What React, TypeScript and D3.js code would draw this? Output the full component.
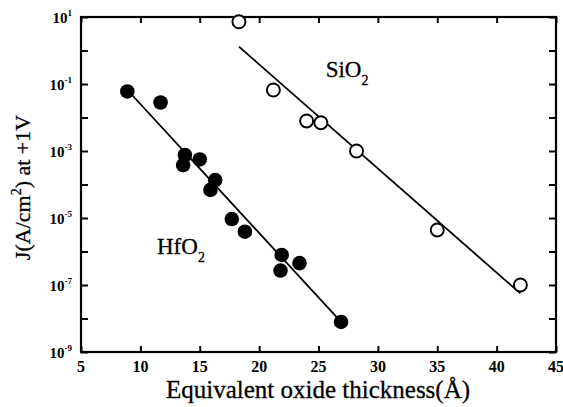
import React, { useRef, useEffect } from "react";
import * as d3 from "d3";

// HfO2 (filled) and SiO2 (open) measurements
const hfo2Thickness = [8.9, 11.7, 13.75, 13.6, 15.0, 16.3, 15.9, 17.7, 18.8, 21.9, 21.8, 23.4, 26.9];
const hfo2Current = [6e-2, 2.8e-2, 7.6e-4, 3.8e-4, 5.6e-4, 1.35e-4, 6.9e-5, 9.3e-6, 3.9e-6, 7.9e-7, 2.7e-7, 4.5e-7, 7.9e-9];

const sio2Thickness = [18.3, 21.2, 24.0, 25.2, 28.2, 35.0, 42.0];
const sio2Current = [7.2, 6.6e-2, 7.9e-3, 7e-3, 1e-3, 4.4e-6, 1e-7];

// fitted lines (end points)
const hfo2FitThickness = [9.3, 26.9];
const hfo2FitCurrent = [4.7e-2, 7.9e-9];
const sio2FitThickness = [18.3, 42.0];
const sio2FitCurrent = [1.3, 5.6e-8];

const xTicks = [5, 10, 15, 20, 25, 30, 35, 40, 45];
const yExponents = [1, 0, -1, -2, -3, -4, -5, -6, -7, -8, -9];
const yLabelExponents = [1, -1, -3, -5, -7, -9];

const W = 563;
const H = 407;
const margin = { top: 17, left: 81, right: 7, bottom: 55 };
const font = "'Liberation Serif', 'Times New Roman', serif";

export default function App() {
  const svgRef = useRef<SVGSVGElement>(null);

  useEffect(() => {
    drawChart();
  }, []);

  function drawChart() {
    const root = d3.select(svgRef.current);
    root.selectAll("*").remove();

    const width = W - margin.left - margin.right;
    const height = H - margin.top - margin.bottom;

    const svg = root.append("g").attr("transform", `translate(${margin.left},${margin.top})`);

    const xScale = d3.scaleLinear().domain([5, 45]).range([0, width]);
    const yScale = d3.scaleLog().domain([1e-9, 1e1]).range([height, 0]);
    const yTickVals = yExponents.map((e) => Math.pow(10, e));

    // ticks (all pointing inward)
    const styleAxis = (g: any) => {
      g.select(".domain").remove();
      g.selectAll("line").attr("stroke", "#000").attr("stroke-width", 2);
      g.selectAll("text").remove();
    };
    svg.append("g").attr("transform", `translate(0,${height})`)
      .call(d3.axisBottom(xScale).tickValues(xTicks).tickSize(-6)).call(styleAxis);
    svg.append("g")
      .call(d3.axisTop(xScale).tickValues(xTicks).tickSize(-6)).call(styleAxis);
    svg.append("g")
      .call(d3.axisLeft(yScale).tickValues(yTickVals).tickSize(-7)).call(styleAxis);
    svg.append("g").attr("transform", `translate(${width},0)`)
      .call(d3.axisRight(yScale).tickValues(yTickVals).tickSize(-7)).call(styleAxis);

    // frame
    svg.append("rect").attr("width", width).attr("height", height)
      .attr("fill", "none").attr("stroke", "#000").attr("stroke-width", 2.2);

    // x tick labels
    svg.selectAll(".xlab").data(xTicks).enter().append("text")
      .attr("x", (d) => xScale(d)).attr("y", height + 20)
      .attr("text-anchor", "middle").attr("font-family", font)
      .attr("font-weight", "bold").attr("font-size", 16).text((d) => d);

    // y tick labels 10^n
    const ylab = svg.selectAll(".ylab").data(yLabelExponents).enter().append("text")
      .attr("x", -9).attr("y", (d) => yScale(Math.pow(10, d)) + 5.5)
      .attr("text-anchor", "end").attr("font-family", font).attr("font-weight", "bold");
    ylab.append("tspan").attr("font-size", 15).text("10");
    ylab.append("tspan").attr("font-size", 9).attr("dy", -6.5).text((d) => (d < 0 ? "-" + -d : "" + d));

    // fit lines
    const line = d3.line<[number, number]>()
      .x((d) => xScale(d[0])).y((d) => yScale(d[1]));
    const fits = [
      d3.zip(hfo2FitThickness, hfo2FitCurrent),
      d3.zip(sio2FitThickness, sio2FitCurrent),
    ];
    fits.forEach((f) => {
      svg.append("path").datum(f as [number, number][])
        .attr("fill", "none").attr("stroke", "#000").attr("stroke-width", 1.8).attr("d", line);
    });

    // points
    svg.selectAll(".hf").data(d3.zip(hfo2Thickness, hfo2Current)).enter().append("circle")
      .attr("cx", (d) => xScale(d[0])).attr("cy", (d) => yScale(d[1]))
      .attr("r", 7.3).attr("fill", "#000");
    svg.selectAll(".si").data(d3.zip(sio2Thickness, sio2Current)).enter().append("circle")
      .attr("cx", (d) => xScale(d[0])).attr("cy", (d) => yScale(d[1]))
      .attr("r", 6.5).attr("fill", "#fff").attr("stroke", "#000").attr("stroke-width", 1.9);

    // series labels
    const sio = svg.append("text").attr("x", xScale(25.6)).attr("y", yScale(Math.pow(10, -0.8)))
      .attr("font-family", font).attr("font-size", 23).attr("stroke", "#000").attr("stroke-width", 0.3);
    sio.append("tspan").text("SiO");
    sio.append("tspan").attr("font-size", 14).attr("dy", 8).text("2");

    const hf = svg.append("text").attr("x", xScale(11.4)).attr("y", yScale(Math.pow(10, -6.06)))
      .attr("font-family", font).attr("font-size", 23).attr("stroke", "#000").attr("stroke-width", 0.3);
    hf.append("tspan").text("HfO");
    hf.append("tspan").attr("font-size", 14).attr("dy", 8).text("2");

    // axis titles
    root.append("text").attr("x", 318).attr("y", H - 9)
      .attr("text-anchor", "middle").attr("font-family", font).attr("font-size", 25)
      .attr("stroke", "#000").attr("stroke-width", 0.3)
      .text("Equivalent oxide thickness(Å)");

    const yt = root.append("text")
      .attr("transform", `translate(30,${margin.top + height / 2 + 3}) rotate(-90)`)
      .attr("text-anchor", "middle").attr("font-family", font).attr("font-size", 22)
      .attr("stroke", "#000").attr("stroke-width", 0.3);
    yt.append("tspan").text("J(A/cm");
    yt.append("tspan").attr("font-size", 14).attr("dy", -9).text("2");
    yt.append("tspan").attr("dy", 9).text(") at +1V");
  }

  return (
    <div>
      <style>{"body{margin:0}"}</style>
      <svg ref={svgRef} width={W} height={H} style={{ display: "block", background: "#fff" }} />
    </div>
  );
}
